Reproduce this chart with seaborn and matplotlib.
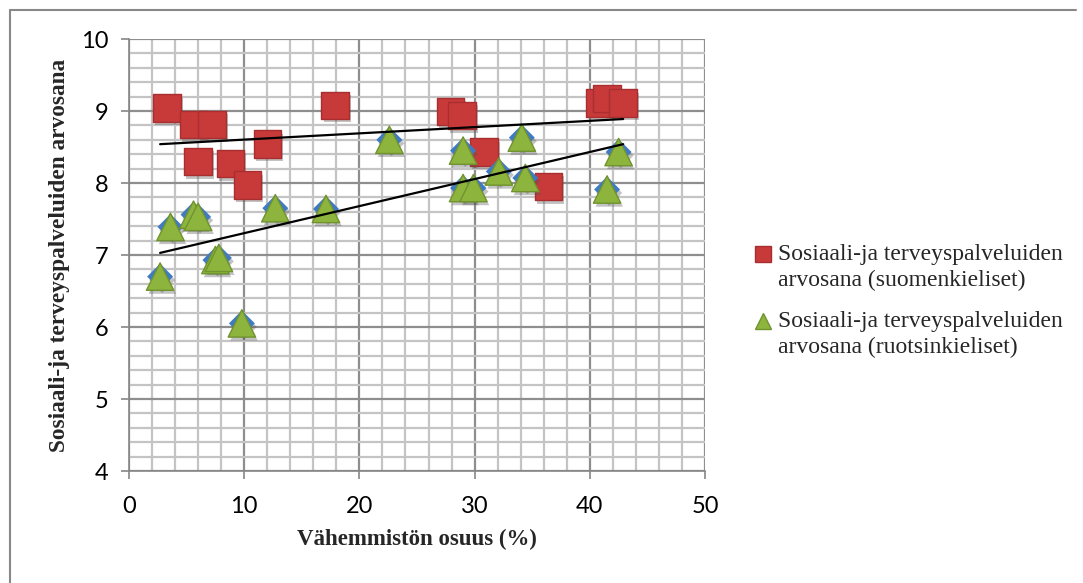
import numpy as np
import matplotlib
matplotlib.use("Agg")
import matplotlib.pyplot as plt
import matplotlib.patheffects as pe
from matplotlib.ticker import MultipleLocator
from matplotlib.lines import Line2D
from matplotlib.legend_handler import HandlerLine2D
import seaborn as sns

# ---- data ----
fi_x = [3.3, 5.6, 7.2, 6.0, 8.8, 10.3, 12.0, 17.9, 27.9, 28.9, 30.8, 36.4, 40.9, 41.5, 42.9]
fi_y = [9.04, 8.81, 8.81, 8.30, 8.27, 7.97, 8.54, 9.08, 8.99, 8.94, 8.43, 7.95, 9.11, 9.17, 9.11]

sv_x = [2.7, 3.6, 5.6, 6.0, 7.5, 7.8, 9.8, 12.7, 17.1, 22.6, 29.0, 29.0, 29.9, 32.1, 34.1, 34.4, 41.5, 42.5]
sv_y = [6.70, 7.39, 7.56, 7.53, 6.93, 6.96, 6.05, 7.65, 7.64, 8.60, 8.45, 7.93, 7.93, 8.16, 8.63, 8.07, 7.91, 8.43]

x_ticks = [0, 10, 20, 30, 40, 50]
y_ticks = [4, 5, 6, 7, 8, 9, 10]
x_label = "Vähemmistön osuus (%)"
y_label = "Sosiaali-ja terveyspalveluiden arvosana"
legend_labels = ["Sosiaali-ja terveyspalveluiden\narvosana (suomenkieliset)",
                 "Sosiaali-ja terveyspalveluiden\narvosana (ruotsinkieliset)"]

RED = "#C8393A"
RED_EDGE = "#A92E2F"
GREEN = "#8DB43D"
GREEN_EDGE = "#71932F"
BLUE = "#3F7BC4"

sns.set_theme(style="white")
plt.rcParams["font.family"] = ["Lato", "DejaVu Sans"]

W, H = 1083, 583
fig = plt.figure(figsize=(W / 100, H / 100), dpi=100)
ax = fig.add_axes([129 / W, 1 - 471 / H, 576 / W, 432 / H])

shadow = [pe.SimplePatchShadow(offset=(1.5, -2.5), alpha=0.35, shadow_rgbFace="#555555"), pe.Normal()]

sns.scatterplot(x=fi_x, y=fi_y, marker="s", s=390, color=RED, edgecolor=RED_EDGE,
                linewidth=1.0, ax=ax, zorder=3)
sns.scatterplot(x=sv_x, y=sv_y, marker="D", s=175, color=BLUE, edgecolor="none",
                ax=ax, zorder=4)
sns.scatterplot(x=sv_x, y=sv_y, marker="^", s=390, color=GREEN, edgecolor=GREEN_EDGE,
                linewidth=1.0, ax=ax, zorder=5)
for coll in ax.collections:
    coll.set_path_effects(shadow)

# linear trend lines
x_all = np.array(fi_x + sv_x)
x_line = np.array([x_all.min(), x_all.max()])
for xs, ys in [(fi_x, fi_y), (sv_x, sv_y)]:
    k, b = np.polyfit(xs, ys, 1)
    sns.lineplot(x=x_line, y=k * x_line + b, color="black", linewidth=1.6, ax=ax, zorder=6)

ax.set_xlim(0, 50)
ax.set_ylim(4, 10)
ax.set_xticks(x_ticks)
ax.set_yticks(y_ticks)
ax.xaxis.set_minor_locator(MultipleLocator(2))
ax.yaxis.set_minor_locator(MultipleLocator(0.2))
ax.set_axisbelow(True)
ax.grid(which="minor", color="#C4C4C4", linewidth=1.6)
ax.grid(which="major", color="#8E8E8E", linewidth=1.6)

for side in ["top", "right"]:
    ax.spines[side].set_visible(False)
for side in ["left", "bottom"]:
    ax.spines[side].set_color("#868686")
    ax.spines[side].set_linewidth(1.2)

ax.tick_params(which="major", direction="out", length=6, width=1.2, color="#868686",
               labelsize=17, labelcolor="black", left=True, bottom=True)
ax.tick_params(axis="x", pad=12)
ax.tick_params(axis="y", pad=9)
ax.tick_params(which="minor", length=0)

serif = ["Liberation Serif", "DejaVu Serif"]
ax.set_xlabel(x_label, fontsize=16.5, fontweight="bold", family=serif)
ax.set_ylabel(y_label, fontsize=16.8, fontweight="bold", family=serif)
ax.xaxis.label.set_va("center")
ax.xaxis.set_label_coords(0.5, -(539 - 471) / 432)
ax.yaxis.label.set_va("center")
ax.yaxis.set_label_coords(-(129 - 60) / 576, 0.5)


class FirstLineHandler(HandlerLine2D):
    """Place the legend marker next to the first line of a two-line label."""

    def __init__(self, dy, **kw):
        super().__init__(**kw)
        self.dy = dy

    def create_artists(self, legend, orig_handle, xdescent, ydescent, width, height,
                       fontsize, trans):
        arts = super().create_artists(legend, orig_handle, xdescent, ydescent, width,
                                      height, fontsize, trans)
        for a in arts:
            a.set_ydata(np.asarray(a.get_ydata(), dtype=float) + self.dy)
        return arts


handles = [
    Line2D([], [], linestyle="none", marker="s", markersize=11, markerfacecolor=RED,
           markeredgecolor=RED_EDGE),
    Line2D([], [], linestyle="none", marker="^", markersize=12, markerfacecolor=GREEN,
           markeredgecolor=GREEN_EDGE),
]
leg_fs = 17
leg = fig.legend(handles, legend_labels, loc="center left",
                 bbox_to_anchor=(754 / W, 1 - 301 / H),
                 frameon=False, prop={"family": serif, "size": leg_fs}, handlelength=0.8,
                 handletextpad=0.22, labelspacing=0.88, borderpad=0, borderaxespad=0,
                 handler_map={h: FirstLineHandler(dy=9.6) for h in handles})
for t in leg.get_texts():
    t.set_linespacing(1.28)

# outer chart border
fig.add_artist(Line2D([10 / W, 10 / W], [0, 1 - 10 / H], transform=fig.transFigure,
                      color="#888888", linewidth=1.5))
fig.add_artist(Line2D([10 / W, 1076 / W], [1 - 10 / H, 1 - 10 / H], transform=fig.transFigure,
                      color="#888888", linewidth=1.5))

fig.savefig("out.png", dpi=100)
